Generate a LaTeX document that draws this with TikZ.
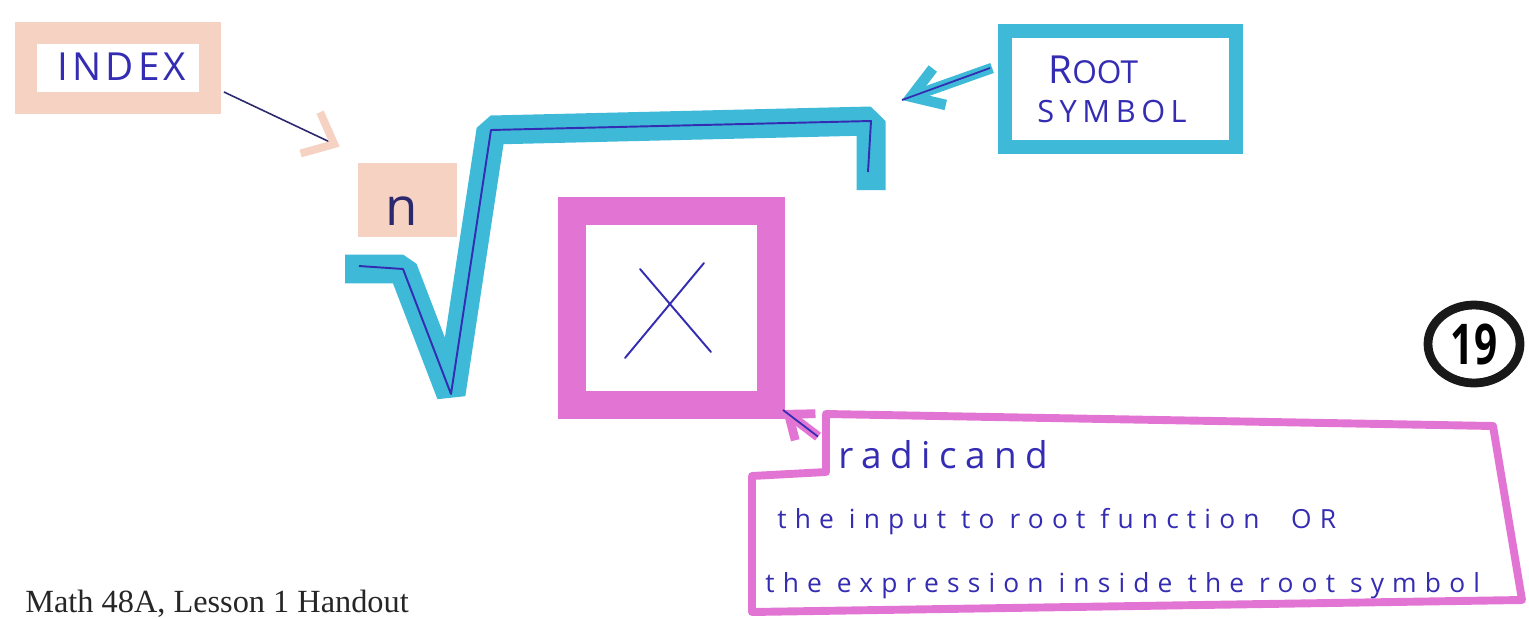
\documentclass[tikz,border=0pt]{standalone}
\usepackage{fontspec}
\setmainfont{Liberation Serif}
\newfontfamily\hand{Open Sans}
\usetikzlibrary{calc,arrows.meta,shapes.geometric}
\definecolor{peach}{RGB}{246,210,194}
\definecolor{cyanmark}{RGB}{62,186,216}
\definecolor{pinkmark}{RGB}{226,116,212}
\definecolor{ink}{RGB}{52,44,178}
\definecolor{darkink}{RGB}{44,40,110}

\begin{document}
\begin{tikzpicture}[x=0.02cm,y=-0.02cm,
		handtext/.style={ink,inner sep=0pt,anchor=base west,font=\hand\fontsize{#1}{#1}\selectfont},
		markbox/.style={draw=#1,inner sep=0pt}]
				\fill[white] (0,0) rectangle (1529,619);
				\useasboundingbox (0,0) rectangle (1529,619);
				
				\coordinate (r1) at (345,269);
				\coordinate (r2) at (403,269);
				\coordinate (r3) at (451,394);
				\coordinate (r4) at (491,130);
				\coordinate (r5) at (871,121);
				\coordinate (r6) at (871,190);
				
				\coordinate (q1) at (826,414);
				\coordinate (q2) at (1493,426);
				\coordinate (q3) at (1522,600);
				\coordinate (q4) at (752,612);
				\coordinate (q5) at (752,476);
				\coordinate (q6) at (826,472);
				
				% boxes
				\node[markbox=peach,line width=12.5pt,minimum width=3.68cm,minimum height=1.4cm] (index) at (118,68) {};
				\node[fill=peach,inner sep=0pt,minimum width=1.98cm,minimum height=1.48cm] (nbox) at (407.5,200) {};
				\node[markbox=pinkmark,line width=15.9pt,minimum width=3.98cm,minimum height=3.88cm] (xbox) at (671.5,308) {};
				\node[markbox=cyanmark,line width=7.9pt,minimum width=4.62cm,minimum height=2.32cm] (rootbox) at (1120.5,89) {};
				\draw[pinkmark,line width=4.5pt,line join=round] (q1) -- (q2) -- (q3) -- (q4) -- (q5) -- (q6) -- cycle;
				
				% root sign
				\draw[cyanmark,line width=16.5pt,line join=bevel] (r1) -- (r2) -- (r3) -- (r4) -- (r5) -- (r6);
				\draw[ink,line width=1.1pt,line join=round] ($(r1)+(14,-3)$) -- (r2) -- (r3) -- (r4) -- (r5) -- ($(r6)+(-3,-18)$);
				
				\draw[ink,line width=1.1pt,line cap=round] (640,269) -- (711,352);
				\draw[ink,line width=1.1pt,line cap=round] (625,358) -- (704,263);
				
				% labels
				\node[handtext=22] (indextxt) at (57,80) {\addfontfeature{LetterSpace=11}INDEX};
				\node[handtext=30,text=darkink,anchor=base] (n) at (402,225) {n};
				\node[handtext=18] (roottxt) at (1048,83) {{\fontsize{22}{22}\selectfont R}OOT};
				\node[handtext=17.5] (symboltxt) at (1037,122) {\addfontfeature{LetterSpace=18}SYMBOL};
				\node[handtext=21] (radicand) at (838,468) {\addfontfeature{LetterSpace=23}radicand};
				\node[handtext=15] (input) at (777,528) {\addfontfeature{LetterSpace=31}the input to root function\hspace{1.2em}OR};
				\node[handtext=15] (expr) at (765,592) {\addfontfeature{LetterSpace=31}the expression inside the root symbol};
				\node[anchor=base west,inner sep=0pt,text=black!85,font=\fontsize{18.4}{20}\selectfont] (title) at (25,612) {Math 48A, Lesson 1 Handout};
				\node[draw=black!90,ellipse,line width=5pt,inner sep=0pt,minimum width=1.84cm,minimum height=1.56cm,font=\hand\bfseries\fontsize{32}{32}\selectfont] (page) at (1474,344) {\scalebox{0.72}[1]{19}};
				
				% arrows
				\draw[darkink,line width=0.9pt,-{Straight Barb[color=peach,line width=4.5pt,length=15pt,width=26pt]}] ($(index.east)+(3,24)$) -- ($(nbox.north west)+(-18,-16)$);
				\coordinate (bar tip) at ($(r5)+(31,-21)$);
				\draw[cyanmark,line width=6pt,-{Straight Barb[line width=6pt,length=17pt,width=22pt]}] ($(rootbox.west)+(-6,-21)$) -- (bar tip);
				\draw[ink,line width=1pt] ($(rootbox.west)+(-8,-21)$) -- (bar tip);
				\draw[pinkmark,line width=5.5pt,-{Straight Barb[line width=5pt,length=12pt,width=19pt]}] ($(radicand.north west)+(-20,-3)$) -- ($(xbox.south east)+(-2,-9)$);
				\draw[ink,line width=1pt] ($(radicand.north west)+(-20,-3)$) -- ($(xbox.south east)+(-2,-9)$);
			\end{tikzpicture}
\end{document}
